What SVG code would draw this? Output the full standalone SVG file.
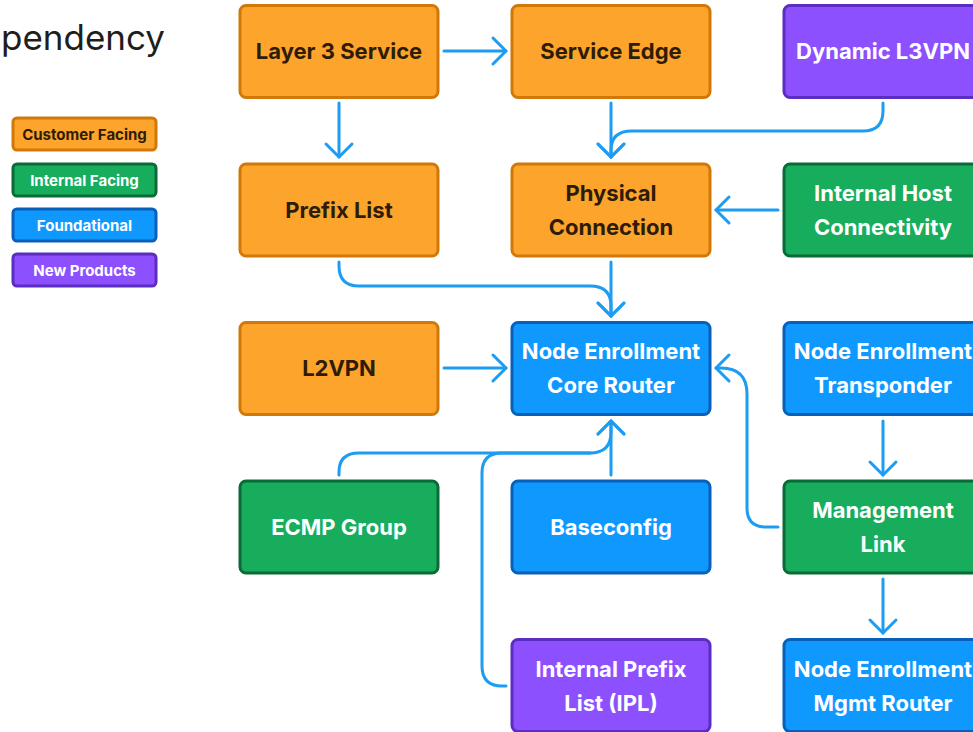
<svg xmlns="http://www.w3.org/2000/svg" width="973" height="732" viewBox="0 0 973 732">
<defs>
<style>
.n rect{stroke-width:3}
.or rect{fill:#FCA42C;stroke:#D27808}
.gr rect{fill:#17AD5C;stroke:#0B6B36}
.bl rect{fill:#0F99FF;stroke:#0A5FB8}
.pu rect{fill:#8C50FF;stroke:#5B2DC2}
text{font-family:Inter,"Noto Sans","Liberation Sans",sans-serif;font-weight:700;text-anchor:middle}
.n text{font-size:22px}
.or text{fill:#2E1C06}
.gr text,.bl text,.pu text{fill:#FFFFFF}
.c path{fill:none;stroke:#1C9CF2;stroke-width:3;stroke-linecap:round;stroke-linejoin:round}
</style>
<marker id="ah" markerUnits="userSpaceOnUse" markerWidth="40" markerHeight="40" viewBox="-20 -20 40 40" refX="0" refY="0" orient="auto">
<path d="M-13,-13 L0,0 L-13,13" fill="none" stroke="#1C9CF2" stroke-width="3" stroke-linecap="round" stroke-linejoin="round"/>
</marker>
</defs>
<rect x="0" y="0" width="973" height="732" fill="#FFFFFF"/>
<text x="1" y="50" style="font-size:35px;font-weight:400;text-anchor:start;fill:#1E1E1E">pendency</text>

<g id="legend">
<g id="lg-customer" class="n or"><rect x="13" y="118" width="143" height="32" rx="4"/><text x="84.5" y="139.5" style="font-size:15px">Customer Facing</text></g>
<g id="lg-internal" class="n gr"><rect x="13" y="164" width="143" height="32" rx="4"/><text x="84.5" y="185.5" style="font-size:15px">Internal Facing</text></g>
<g id="lg-foundational" class="n bl"><rect x="13" y="209" width="143" height="32" rx="4"/><text x="84.5" y="230.5" style="font-size:15px">Foundational</text></g>
<g id="lg-new" class="n pu"><rect x="13" y="254" width="143" height="32" rx="4"/><text x="84.5" y="275.5" style="font-size:15px">New Products</text></g>
</g>

<g id="connectors" class="c">
<path d="M444,51 L506,51" marker-end="url(#ah)"/>
<path d="M339,103 L339,157" marker-end="url(#ah)"/>
<path d="M611,103 L611,157" marker-end="url(#ah)"/>
<path d="M883,103 L883,111 Q883,131 863,131 L632,131 Q611,131 611,150 L611,157" marker-end="url(#ah)"/>
<path d="M778,210 L716,210" marker-end="url(#ah)"/>
<path d="M339,262 L339,266 Q339,286 359,286 L590,286 Q611,286 611,306 L611,316" marker-end="url(#ah)"/>
<path d="M611,262 L611,316" marker-end="url(#ah)"/>
<path d="M444,368 L506,368" marker-end="url(#ah)"/>
<path d="M883,421 L883,475" marker-end="url(#ah)"/>
<path d="M883,579 L883,633" marker-end="url(#ah)"/>
<path d="M778,527 L766,527 Q747,527 747,508 L747,394 Q747,368 721,368 L716,368" marker-end="url(#ah)"/>
<path d="M611,475 L611,421" marker-end="url(#ah)"/>
<path d="M339,475 L339,472 Q339,453 359,453 L590,453 Q611,453 611,432 L611,421" marker-end="url(#ah)"/>
<path d="M506,686 L502,686 Q482,686 482,666 L482,473 Q482,453 502,453 L590,453"/>
</g>

<g id="layer3-service" class="n or"><rect x="240" y="5.5" width="198" height="92" rx="6"/><text x="339" y="59">Layer 3 Service</text></g>
<g id="service-edge" class="n or"><rect x="512" y="5.5" width="198" height="92" rx="6"/><text x="611" y="59">Service Edge</text></g>
<g id="dynamic-l3vpn" class="n pu"><rect x="784" y="5.5" width="198" height="92" rx="6"/><text x="883" y="59">Dynamic L3VPN</text></g>

<g id="prefix-list" class="n or"><rect x="240" y="164" width="198" height="92" rx="6"/><text x="339" y="218">Prefix List</text></g>
<g id="physical-connection" class="n or"><rect x="512" y="164" width="198" height="92" rx="6"/><text x="611" y="201">Physical</text><text x="611" y="235">Connection</text></g>
<g id="internal-host-connectivity" class="n gr"><rect x="784" y="164" width="198" height="92" rx="6"/><text x="883" y="201">Internal Host</text><text x="883" y="235">Connectivity</text></g>

<g id="l2vpn" class="n or"><rect x="240" y="322.5" width="198" height="92" rx="6"/><text x="339" y="376">L2VPN</text></g>
<g id="node-enrollment-core-router" class="n bl"><rect x="512" y="322.5" width="198" height="92" rx="6"/><text x="611" y="359">Node Enrollment</text><text x="611" y="393">Core Router</text></g>
<g id="node-enrollment-transponder" class="n bl"><rect x="784" y="322.5" width="198" height="92" rx="6"/><text x="883" y="359">Node Enrollment</text><text x="883" y="393">Transponder</text></g>

<g id="ecmp-group" class="n gr"><rect x="240" y="481" width="198" height="92" rx="6"/><text x="339" y="535">ECMP Group</text></g>
<g id="baseconfig" class="n bl"><rect x="512" y="481" width="198" height="92" rx="6"/><text x="611" y="535">Baseconfig</text></g>
<g id="management-link" class="n gr"><rect x="784" y="481" width="198" height="92" rx="6"/><text x="883" y="518">Management</text><text x="883" y="552">Link</text></g>

<g id="internal-prefix-list" class="n pu"><rect x="512" y="639.5" width="198" height="92" rx="6"/><text x="611" y="677">Internal Prefix</text><text x="611" y="711">List (IPL)</text></g>
<g id="node-enrollment-mgmt-router" class="n bl"><rect x="784" y="639.5" width="198" height="92" rx="6"/><text x="883" y="677">Node Enrollment</text><text x="883" y="711">Mgmt Router</text></g>
</svg>
